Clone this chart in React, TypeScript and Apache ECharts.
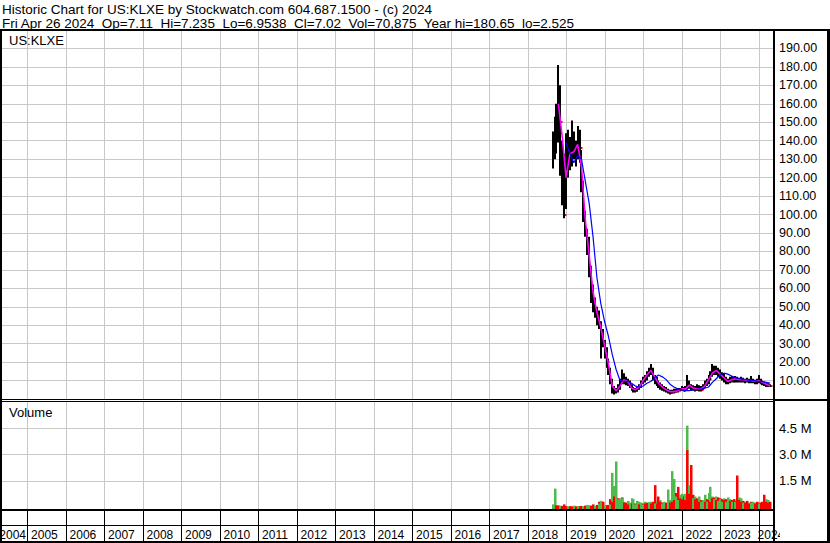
import React, { useEffect, useRef } from "react";
import * as echarts from "echarts";

const FONT = '"Liberation Sans", Arial, Helvetica, sans-serif';

const headerLine1 = "Historic Chart for US:KLXE by Stockwatch.com 604.687.1500 - (c) 2024";
const headerLine2 = "Fri Apr 26 2024  Op=7.11  Hi=7.235  Lo=6.9538  Cl=7.02  Vol=70,875  Year hi=180.65  lo=2.525";
const symbolLabel = "US:KLXE";
const volumeLabel = "Volume";

const yearStarts = [2004, 2005, 2006, 2007, 2008, 2009, 2010, 2011, 2012, 2013, 2014, 2015, 2016, 2017, 2018, 2019, 2020, 2021, 2022, 2023, 2024];
const yearLabels = ["2004", "2005", "2006", "2007", "2008", "2009", "2010", "2011", "2012", "2013", "2014", "2015", "2016", "2017", "2018", "2019", "2020", "2021", "2022", "2023", "2024"];

// bar times (decimal years)
const times = [
  2018.65, 2018.70, 2018.75, 2018.80, 2018.85, 2018.90, 2018.95,
  2019.00, 2019.05, 2019.10, 2019.15, 2019.20, 2019.25, 2019.30, 2019.35, 2019.40, 2019.45,
  2019.50, 2019.55, 2019.60, 2019.65, 2019.70, 2019.75, 2019.80, 2019.85, 2019.90, 2019.95,
  2020.00, 2020.05, 2020.10, 2020.15, 2020.20, 2020.25, 2020.30, 2020.35, 2020.40, 2020.45,
  2020.50, 2020.55, 2020.60, 2020.65, 2020.70, 2020.75, 2020.80, 2020.85, 2020.90, 2020.95,
  2021.00, 2021.05, 2021.10, 2021.15, 2021.20, 2021.25, 2021.30, 2021.35, 2021.40, 2021.45,
  2021.50, 2021.55, 2021.60, 2021.65, 2021.70, 2021.75, 2021.80, 2021.85, 2021.90, 2021.95,
  2022.00, 2022.05, 2022.10, 2022.15, 2022.20, 2022.25, 2022.30, 2022.35, 2022.40, 2022.45,
  2022.50, 2022.55, 2022.60, 2022.65, 2022.70, 2022.75, 2022.80, 2022.85, 2022.90, 2022.95,
  2023.00, 2023.05, 2023.10, 2023.15, 2023.20, 2023.25, 2023.30, 2023.35, 2023.40, 2023.45,
  2023.50, 2023.55, 2023.60, 2023.65, 2023.70, 2023.75, 2023.80, 2023.85, 2023.90, 2023.95,
  2024.00, 2024.05, 2024.10, 2024.15, 2024.20, 2024.25, 2024.30,
];

const highs = [
  145, 153, 160, 181, 170, 140, 133,
  144, 146, 142, 151, 145, 140, 148, 146, 135, 118,
  102, 92, 88, 72, 62, 55, 50, 48, 42, 38,
  32, 28, 22, 17, 11, 7, 6, 8, 11, 16,
  14, 12, 11, 10, 8, 6.5, 6, 6.5, 8, 10,
  12, 13, 15, 17, 19, 17, 13, 12, 10, 9,
  8, 7, 6.5, 5.5, 5, 5, 5.5, 5.5, 6, 6,
  7, 6.5, 7, 13, 10, 8, 7.5, 7, 8, 7.5,
  7, 8, 10, 11, 13, 15, 19, 18, 18, 17,
  16, 14.5, 14, 12, 11, 12, 12.5, 12, 12.5, 12,
  11.5, 12, 11.5, 11, 11.5, 11, 12.5, 11, 10.5, 11,
  13, 11, 10, 9.5, 9, 8.5, 8,
];

const lows = [
  125, 130, 133, 139, 121, 105, 98,
  103, 120, 124, 126, 130, 126, 130, 128, 112, 96,
  88, 78, 66, 52, 47, 44, 40, 38, 22, 28,
  22, 17, 13, 8, 3, 2.5, 3, 3.5, 5, 8,
  8, 7.5, 7, 6, 4.5, 3.5, 3.5, 4, 5, 6,
  8, 9, 10, 12, 13, 10, 8, 7, 6, 5,
  4.5, 4, 3.5, 3, 2.5, 3, 3, 3.5, 3.5, 4,
  4.5, 4, 4, 5, 5.5, 4.5, 4.5, 4, 4.5, 4,
  4, 5, 6, 7, 8, 10, 12, 13, 13, 12,
  11, 10, 9, 8, 8, 8.5, 9, 9, 9, 9,
  9, 9, 9, 8.5, 9, 8.5, 8.5, 8.5, 8, 8,
  8.5, 8, 7.5, 7, 6.5, 6.5, 6.5,
];

const closes = [
  138, 142, 155, 165, 150, 125, 100,
  130, 128, 132, 136, 134, 133, 140, 136, 118, 100,
  92, 85, 72, 58, 52, 48, 44, 42, 34, 30,
  26, 20, 16, 10, 4, 4, 4.5, 6, 9, 12,
  10, 9, 9, 7, 5, 4.5, 4.5, 5.5, 7, 9,
  10, 12, 14, 15, 16, 11, 10, 8, 7, 6,
  5.5, 5, 4.5, 4, 3.5, 4, 4, 4.5, 5, 5,
  5.5, 5, 5, 8, 7, 6, 5.5, 5, 6, 5,
  5, 6.5, 8, 9.5, 11, 13, 15, 16, 15, 14,
  13, 12, 11, 9.5, 9, 10, 11, 10.5, 11, 10.5,
  10, 10.5, 10, 10, 10.5, 10, 10, 9.5, 9, 9.5,
  10, 9, 8.5, 8, 7.5, 7, 7,
];

// volume in millions of shares
const volUp = [
  0.15, 1.05, 0, 0.1, 0.08, 0, 0,
  0, 0.04, 0, 0, 0.08, 0, 0.05, 0, 0, 0.05,
  0, 0.12, 0.1, 0, 0, 0.08, 0, 0.2, 0.35, 0,
  0.12, 0, 0, 0.15, 1.95, 1.2, 2.6, 0.45, 0.5, 0.5,
  0.3, 0, 0.35, 0.25, 0.5, 0.45, 0.15, 0.35, 0.3, 0.25,
  0.15, 0.3, 0, 0.28, 0.3, 0, 0.2, 0.35, 0, 0.4,
  0.2, 0.3, 0, 1.0, 0.4, 2.05, 1.6, 0.6, 0.4, 0.7,
  0.75, 0.7, 0.75, 4.65, 1.25, 0, 0.5, 0.6, 0, 0.6,
  0.3, 0.4, 0.7, 0.3, 0.8, 1.15, 0.6, 0.45, 0.6, 0.35,
  0.45, 0.3, 0.5, 0.3, 0.55, 0.45, 0.3, 0, 0.3, 0,
  0.55, 0.5, 0.25, 0.3, 0, 0.25, 0.25, 0.3, 0.25, 0,
  0.2, 0, 0, 0, 0.45, 0.4, 0,
];

const volDown = [
  0, 0, 0.1, 0.08, 0, 0.06, 0.15,
  0.05, 0, 0.05, 0.04, 0, 0.04, 0, 0.05, 0.06, 0,
  0.08, 0, 0, 0.08, 0.15, 0, 0.12, 0.3, 0, 0.3,
  0, 0.1, 0.12, 0.45, 0.3, 0.6, 0, 0.5, 0, 0.55,
  0.25, 0.25, 0.15, 0, 0.2, 0, 0.2, 0, 0.15, 0,
  0.2, 0.2, 0.25, 0, 0.2, 0.3, 1.25, 0.2, 0.6, 0.3,
  0.25, 0, 0.25, 0, 0.25, 0.3, 0.4, 0.8, 1.15, 0.5,
  0.45, 0.6, 0.4, 3.25, 0.75, 2.4, 0.7, 0.45, 0.5, 0.3,
  0.4, 0, 0.3, 0.45, 0.4, 0.3, 0.5, 0.55, 0.4, 0.55,
  0.5, 0.45, 0.4, 0.45, 0, 0.35, 0.4, 0.45, 0.35, 1.8,
  0.4, 0.3, 0.35, 0.25, 0.35, 0.2, 0.3, 0, 0.2, 0.3,
  0.25, 0.25, 0.3, 0.7, 0.3, 0.25, 0.3,
];

// moving averages
const maTimes = [
  2018.8, 2018.9,
  2019.0, 2019.1, 2019.2, 2019.3, 2019.4, 2019.5, 2019.6, 2019.7, 2019.8, 2019.9,
  2020.0, 2020.1, 2020.2, 2020.3, 2020.4, 2020.5, 2020.6, 2020.7, 2020.8, 2020.9,
  2021.0, 2021.1, 2021.2, 2021.3, 2021.4, 2021.5, 2021.6, 2021.7, 2021.8, 2021.9,
  2022.0, 2022.1, 2022.2, 2022.3, 2022.4, 2022.5, 2022.6, 2022.7, 2022.8, 2022.9,
  2023.0, 2023.1, 2023.2, 2023.3, 2023.4, 2023.5, 2023.6, 2023.7, 2023.8, 2023.9,
  2024.0, 2024.1, 2024.2, 2024.3,
];

const maShort = [
  160, 142,
  120, 133, 134, 138, 126, 97, 78, 58, 47, 39,
  29, 19, 7, 4.5, 7, 10.5, 9.5, 6, 5, 6.5,
  10, 13, 15.5, 12, 8.5, 6.5, 5, 4, 4, 4.5,
  5.5, 5.5, 7.5, 6, 5.5, 5.5, 7, 10.5, 14, 15.5,
  13.5, 11.5, 9.5, 10.5, 11, 10.5, 10.5, 10, 10, 9.5,
  10, 9, 8, 7,
];

const maLong = [
  null, null,
  139, 133, 128, 132, 130, 118, 106, 88, 66, 52,
  42, 34, 24, 16, 10, 9.5, 9.5, 8.5, 7, 6.5,
  7, 8.5, 9.5, 11.5, 13, 12, 10.5, 8, 6.5, 5.5,
  5, 4.5, 4.5, 5, 5.2, 5.3, 5.8, 6.5, 9, 11,
  13, 14, 13.5, 12.5, 11.5, 11, 10.5, 10.3, 10, 9.8,
  9.6, 9.4, 9, 8.6,
];

const X_MIN = 2004.35;
const X_MAX = 2024.4;
const PRICE_MAX = 200;
const PRICE_STEP = 10;
const VOL_MAX = 6e6;
const VOL_STEP = 1.5e6;

const GRID_COLOR = "#c8c8c8";
const UP_COLOR = "#4cbb4c";
const DOWN_COLOR = "#ff0000";

function buildOption(): any {
  const priceData = times.map((t, i) => [t, highs[i], lows[i], closes[i]]);
  const volData = times.map((t, i) => [t, volUp[i] * 1e6, volDown[i] * 1e6]);
  const gridYears = yearStarts.filter((y) => y > X_MIN).map((y) => [y, 0]);
  const labelYears = yearStarts.map((y) => [y, 0]);
  const lastIdx = yearStarts.length - 1;

  const yearGrid = (extra: number) => (params: any, api: any) => {
    const p = api.coord([api.value(0), 0]);
    const cs = params.coordSys;
    const x = Math.round(p[0]) + 0.5;
    return {
      type: "line",
      shape: { x1: x, y1: cs.y, x2: x, y2: cs.y + cs.height + extra },
      style: { stroke: GRID_COLOR, lineWidth: 1 },
    };
  };

  const renderPrice = (params: any, api: any) => {
    const t = api.value(0);
    const hi = api.coord([t, api.value(1)]);
    const lo = api.coord([t, api.value(2)]);
    const cl = api.coord([t, api.value(3)]);
    const x = Math.round(hi[0]);
    return {
      type: "group",
      children: [
        {
          type: "rect",
          shape: { x: x - 1, y: hi[1], width: 2, height: Math.max(1, lo[1] - hi[1]) },
          style: { fill: "#000" },
        },
        {
          type: "rect",
          shape: { x: x + 1, y: Math.round(cl[1]) - 1, width: 1.5, height: 2 },
          style: { fill: DOWN_COLOR },
        },
      ],
    };
  };

  const renderVolume = (params: any, api: any) => {
    const t = api.value(0);
    const base = api.coord([t, 0]);
    const x = Math.round(base[0]);
    const bottom = base[1] + 2;
    const items = [
      { v: api.value(1), c: UP_COLOR },
      { v: api.value(2), c: DOWN_COLOR },
    ]
      .filter((d) => d.v > 0)
      .sort((a, b) => b.v - a.v);
    return {
      type: "group",
      children: items.map((d) => {
        const top = api.coord([t, d.v])[1];
        return {
          type: "rect",
          shape: { x: x - 1, y: top, width: 2.5, height: bottom - top },
          style: { fill: d.c },
        };
      }),
    };
  };

  const renderYearLabels = (params: any, api: any) => {
    const yr = api.value(0);
    const p = api.coord([yr, 0]);
    const cs = params.coordSys;
    const children: any[] = [];
    const x = Math.round(p[0]) + 0.5;
    if (p[0] >= cs.x) {
      children.push({
        type: "line",
        shape: { x1: x, y1: cs.y, x2: x, y2: cs.y + cs.height },
        style: { stroke: "#000", lineWidth: 1 },
      });
    }
    let tx: number;
    let align: string;
    if (p[0] < cs.x) {
      const n = api.coord([yr + 1, 0]);
      tx = n[0] - 1;
      align = "right";
    } else if (params.dataIndex === lastIdx) {
      tx = p[0] - 1;
      align = "left";
    } else {
      tx = p[0] + 4;
      align = "left";
    }
    children.push({
      type: "text",
      x: tx,
      y: cs.y + 24.5,
      style: {
        text: yearLabels[params.dataIndex],
        fill: "#000",
        font: `12px ${FONT}`,
        align,
        textAlign: align,
        verticalAlign: "middle",
        textVerticalAlign: "middle",
      },
    });
    return { type: "group", children };
  };

  const blackRect = (x: number, y: number, w: number, h: number, fill = "#000", z = 100) => ({
    type: "rect",
    shape: { x, y, width: w, height: h },
    style: { fill },
    z,
    silent: true,
  });

  const textEl = (text: string, x: number, y: number, size: number) => ({
    type: "text",
    x,
    y,
    z: 101,
    silent: true,
    style: {
      text,
      fill: "#000",
      font: `${size}px ${FONT}`,
      align: "left",
      textAlign: "left",
      verticalAlign: "top",
      textVerticalAlign: "top",
    },
  });

  const xAxisBase = { type: "value", min: X_MIN, max: X_MAX, show: false };

  return {
    animation: false,
    backgroundColor: "#fff",
    grid: [
      { left: 2, top: 30, width: 772, height: 369 },
      { left: 2, top: 402, width: 772, height: 105 },
      { left: 2, top: 510, width: 772, height: 32 },
    ],
    xAxis: [
      { ...xAxisBase, gridIndex: 0 },
      { ...xAxisBase, gridIndex: 1 },
      { ...xAxisBase, gridIndex: 2 },
    ],
    yAxis: [
      {
        type: "value",
        gridIndex: 0,
        position: "right",
        min: 0,
        max: PRICE_MAX,
        interval: PRICE_STEP,
        axisLine: { show: false },
        axisTick: { show: false },
        axisLabel: {
          color: "#000",
          fontSize: 12.5,
          fontFamily: FONT,
          margin: 5,
          formatter: (v: number) => (v <= 0 || v >= PRICE_MAX ? "" : v.toFixed(2)),
        },
        splitLine: { show: true, showMinLine: false, showMaxLine: false, lineStyle: { color: GRID_COLOR, width: 1 } },
      },
      {
        type: "value",
        gridIndex: 1,
        position: "right",
        min: 0,
        max: VOL_MAX,
        interval: VOL_STEP,
        axisLine: { show: false },
        axisTick: { show: false },
        axisLabel: {
          color: "#000",
          fontSize: 13,
          fontFamily: FONT,
          margin: 5,
          formatter: (v: number) => (v <= 0 || v >= VOL_MAX ? "" : (v / 1e6).toFixed(1) + " M"),
        },
        splitLine: { show: true, showMinLine: false, showMaxLine: false, lineStyle: { color: GRID_COLOR, width: 1 } },
      },
      { type: "value", gridIndex: 2, min: 0, max: 1, show: false },
    ],
    series: [
      {
        type: "custom",
        name: "yearGridPrice",
        xAxisIndex: 0,
        yAxisIndex: 0,
        data: gridYears,
        renderItem: yearGrid(0),
        silent: true,
        z: 1,
      },
      {
        type: "custom",
        name: "yearGridVolume",
        xAxisIndex: 1,
        yAxisIndex: 1,
        data: gridYears,
        renderItem: yearGrid(2),
        silent: true,
        z: 1,
      },
      {
        type: "custom",
        name: "price",
        xAxisIndex: 0,
        yAxisIndex: 0,
        data: priceData,
        renderItem: renderPrice,
        silent: true,
        z: 3,
      },
      {
        type: "line",
        name: "maShort",
        xAxisIndex: 0,
        yAxisIndex: 0,
        data: maTimes.map((t, i) => [t, maShort[i]]),
        showSymbol: false,
        connectNulls: false,
        lineStyle: { color: "#ff00ff", width: 1.6 },
        silent: true,
        z: 4,
      },
      {
        type: "line",
        name: "maLong",
        xAxisIndex: 0,
        yAxisIndex: 0,
        data: maTimes.map((t, i) => [t, maLong[i]]),
        showSymbol: false,
        connectNulls: false,
        lineStyle: { color: "#0000ff", width: 1.2 },
        silent: true,
        z: 5,
      },
      {
        type: "custom",
        name: "volume",
        xAxisIndex: 1,
        yAxisIndex: 1,
        data: volData,
        renderItem: renderVolume,
        silent: true,
        z: 3,
      },
      {
        type: "custom",
        name: "years",
        xAxisIndex: 2,
        yAxisIndex: 2,
        data: labelYears,
        renderItem: renderYearLabels,
        silent: true,
        z: 3,
      },
    ],
    graphic: [
      blackRect(780, 511, 47, 30, "#fff", 99),
      blackRect(0, 29, 830, 2),
      blackRect(0, 30, 2, 513),
      blackRect(773, 30, 2, 513),
      blackRect(827, 30, 3, 513),
      blackRect(0, 399, 830, 1),
      blackRect(773, 399, 57, 2),
      blackRect(0, 401, 774, 1),
      blackRect(0, 509, 774, 2),
      blackRect(0, 525, 774, 1),
      blackRect(0, 541, 830, 2),
      textEl(headerLine1, 2, 2, 13.5),
      textEl(headerLine2, 2, 16, 13.5),
      textEl(symbolLabel, 9, 34, 13),
      textEl(volumeLabel, 9, 406, 13),
    ],
  };
}

export default function App() {
  const ref = useRef<HTMLDivElement>(null);
  useEffect(() => {
    if (!ref.current) return;
    const chart = echarts.init(ref.current, null, { renderer: "svg" });
    chart.setOption(buildOption());
    return () => chart.dispose();
  }, []);
  return (
    <div
      ref={ref}
      style={{ position: "fixed", left: 0, top: 0, width: 830, height: 543, background: "#fff" }}
    />
  );
}
